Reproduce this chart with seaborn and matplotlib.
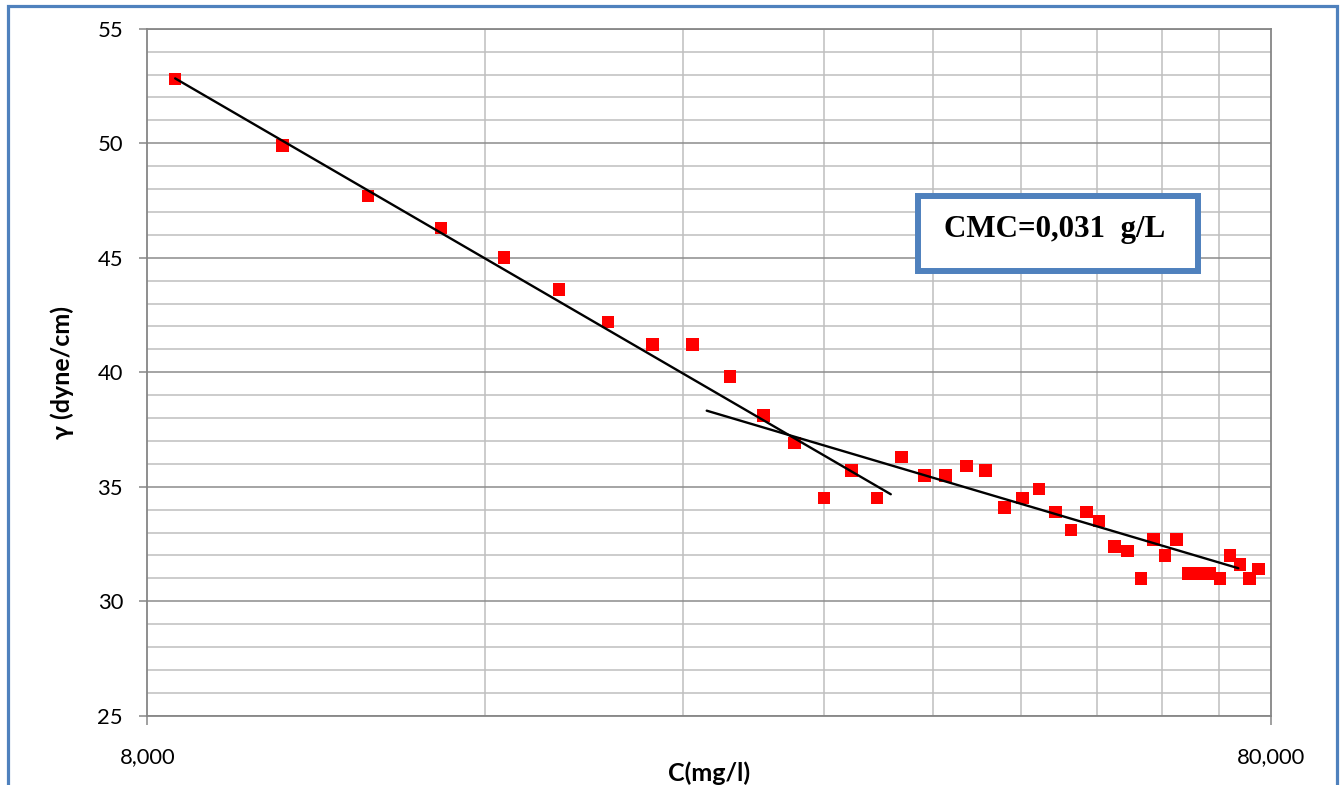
import matplotlib
matplotlib.use("Agg")
import matplotlib.pyplot as plt
import seaborn as sns
import pandas as pd
from matplotlib.ticker import FixedLocator, FixedFormatter, NullFormatter, MultipleLocator
from matplotlib.patches import Rectangle

# Surface tension versus surfactant concentration
conc_mg_l = [8470, 10550, 12580, 14600, 16620, 18600, 20570, 22540, 24470, 26400,
             28300, 30160, 32030, 33880, 35700, 37540, 39340, 41100, 42870, 44610,
             46340, 48090, 49760, 51490, 53140, 54820, 56270, 58070, 59680, 61330,
             62900, 64420, 65980, 67570, 68970, 70540, 72100, 73590, 75120, 76570,
             78000]
surface_tension = [52.8, 49.9, 47.7, 46.3, 45.0, 43.6, 42.2, 41.2, 41.2, 39.8,
                   38.1, 36.9, 34.5, 35.7, 34.5, 36.3, 35.5, 35.5, 35.9, 35.7,
                   34.1, 34.5, 34.9, 33.9, 33.1, 33.9, 33.5, 32.4, 32.2, 31.0,
                   32.7, 32.0, 32.7, 31.2, 31.2, 31.2, 31.0, 32.0, 31.6, 31.0,
                   31.4]

# Linear segments (in log C) below and above the CMC
pre_cmc_c = [8470, 36720]
pre_cmc_gamma = [52.83, 34.67]
post_cmc_c = [25180, 74860]
post_cmc_gamma = [38.32, 31.44]

x_ticks = [8000, 80000]
x_tick_labels = ["8,000", "80,000"]
x_minor = [16000, 24000, 32000, 40000, 48000, 56000, 64000, 72000]
cmc_text = "CMC=0,031  g/L"

W, H = 1340, 785
sns.set_theme(style="white")
plt.rcParams['font.family'] = ['Lato', 'DejaVu Sans']

fig = plt.figure(figsize=(W / 100, H / 100), dpi=100)
ax = fig.add_axes([147.3 / W, 1 - 715.7 / H, 1123.4 / W, 687 / H])

df = pd.DataFrame({"C": conc_mg_l, "gamma": surface_tension})
sns.scatterplot(data=df, x="C", y="gamma", marker="s", s=82, color="#FF0000",
                edgecolor="none", linewidth=0, ax=ax, zorder=3)
for xs, ys in [(pre_cmc_c, pre_cmc_gamma), (post_cmc_c, post_cmc_gamma)]:
    sns.lineplot(x=xs, y=ys, color="black", linewidth=1.7, estimator=None,
                 sort=False, ax=ax, zorder=4)

ax.set_xscale("log")
ax.set_xlim(8000, 80000)
ax.set_ylim(25, 55)
ax.xaxis.set_major_locator(FixedLocator(x_ticks))
ax.xaxis.set_major_formatter(FixedFormatter(x_tick_labels))
ax.xaxis.set_minor_locator(FixedLocator(x_minor))
ax.xaxis.set_minor_formatter(NullFormatter())
ax.yaxis.set_major_locator(MultipleLocator(5))
ax.yaxis.set_minor_locator(MultipleLocator(1))

ax.set_axisbelow(True)
ax.grid(which="major", axis="y", color="#8C8C8C", linewidth=1.1)
ax.grid(which="minor", axis="both", color="#BFBFBF", linewidth=1.1)
ax.grid(which="major", axis="x", visible=False)

ax.tick_params(which="major", bottom=True, left=True, direction="out",
               color="#868686", width=1.1, labelsize=15.8, labelcolor="black")
ax.tick_params(axis="y", which="major", length=5.5, pad=12)
ax.tick_params(axis="x", which="major", length=6.5, pad=16)
ax.tick_params(which="minor", length=0)

for sp in ax.spines.values():
    sp.set_visible(True)
    sp.set_color("#868686")
    sp.set_linewidth(1.3)

ax.set_xlabel("C(mg/l)", fontsize=18, fontweight="bold", color="black")
ax.xaxis.set_label_coords(0.5, -0.0834)
ax.xaxis.label.set_va("center")
ax.set_ylabel("γ (dyne/cm)", fontsize=18, fontweight="bold", color="black")
ax.yaxis.set_label_coords(-0.0759, 0.5)
ax.yaxis.label.set_va("center")

# Outer chart frame
fig.add_artist(Rectangle((8 / W, -0.05), 1329 / W, 1.05 - 6.3 / H,
                         transform=fig.transFigure, fill=False,
                         edgecolor="#4F81BD", linewidth=2.3, zorder=10))

# CMC annotation box
fig.add_artist(Rectangle((918 / W, 1 - 271 / H), 280 / W, 75 / H,
                         transform=fig.transFigure, facecolor="white",
                         edgecolor="#4F81BD", linewidth=4.3, zorder=10))
fig.text(1055 / W, 1 - 230 / H, cmc_text, ha="center", va="center",
         fontsize=22.3, fontweight="bold", family=["Liberation Serif"],
         color="black", zorder=11)

fig.savefig("out.png", dpi=100)
